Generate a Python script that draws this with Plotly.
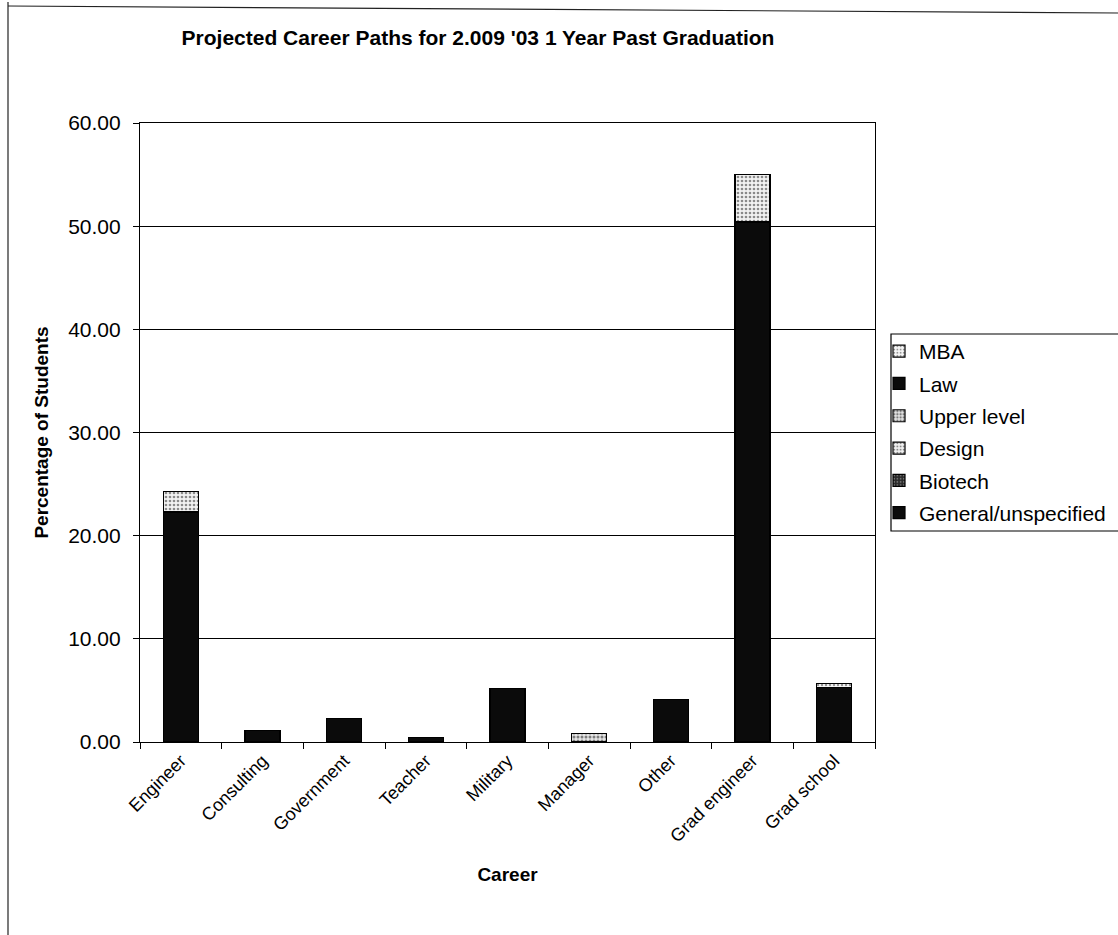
import plotly.graph_objects as go

# Career categories along the x axis
careers = ["Engineer", "Consulting", "Government", "Teacher", "Military",
           "Manager", "Other", "Grad engineer", "Grad school"]

# Percentage of students per career, split by sub-specialty (stacked bottom to top)
general_unspecified = [22.3, 1.15, 2.3, 0.4, 5.15, 0, 4.15, 50.4, 0]
biotech = [0, 0, 0, 0, 0, 0, 0, 0, 0]
design = [2.0, 0, 0, 0, 0, 0, 0, 4.6, 0]
upper_level = [0, 0, 0, 0, 0, 0.8, 0, 0, 0]
law = [0, 0, 0, 0, 0, 0, 0, 0, 5.25]
mba = [0, 0, 0, 0, 0, 0, 0, 0, 0.4]

y_ticks = [0, 10, 20, 30, 40, 50, 60]

FONT = "Liberation Sans, Arial, sans-serif"

series = [
    ("General/unspecified", general_unspecified, dict(color="#0b0b0b")),
    ("Biotech", biotech, dict(color="#2a2a2a",
                              pattern=dict(shape=".", fgcolor="#bbbbbb",
                                           bgcolor="#2a2a2a", size=4, solidity=0.25))),
    ("Design", design, dict(color="#dcdcdc",
                            pattern=dict(shape=".", fgcolor="#222222",
                                         bgcolor="#f2f2f2", size=4, solidity=0.35))),
    ("Upper level", upper_level, dict(color="#cfcfcf",
                                      pattern=dict(shape=".", fgcolor="#111111",
                                                   bgcolor="#e6e6e6", size=4, solidity=0.45))),
    ("Law", law, dict(color="#0b0b0b")),
    ("MBA", mba, dict(color="#e8e8e8",
                      pattern=dict(shape=".", fgcolor="#333333",
                                   bgcolor="#f7f7f7", size=4, solidity=0.3))),
]

fig = go.Figure()
n = len(series)
for i, (name, vals, marker) in enumerate(series):
    marker = dict(marker)
    marker["line"] = dict(color="#000000", width=1.2)
    # top-of-stack series listed first in the legend
    fig.add_trace(go.Bar(x=careers, y=vals, name=name, marker=marker,
                         legendgroup=f"g{i}", legendrank=n - i))

# Page frame lines and legend frame
shapes = [
    dict(type="line", xref="paper", yref="paper",
         x0=(8 - 140) / 735, x1=(8 - 140) / 735,
         y0=(742 - 2) / 619, y1=(742 - 935) / 619,
         line=dict(color="#222222", width=1.2)),
    dict(type="line", xref="paper", yref="paper",
         x0=(8 - 140) / 735, x1=(1118 - 140) / 735,
         y0=(742 - 6) / 619, y1=(742 - 13) / 619,
         line=dict(color="#222222", width=1.2)),
    dict(type="rect", xref="paper", yref="paper",
         x0=(891 - 140) / 735, x1=(1125 - 140) / 735,
         y0=(742 - 334) / 619, y1=(742 - 531) / 619,
         line=dict(color="#000000", width=1.2), fillcolor="rgba(0,0,0,0)"),
]

fig.update_layout(
    width=1118, height=935,
    barmode="stack", bargap=0.57,
    paper_bgcolor="white", plot_bgcolor="white",
    margin=dict(l=140, r=243, t=123, b=193, autoexpand=False),
    font=dict(family=FONT, color="#000000", size=19),
    title=dict(text="<b>Projected Career Paths for 2.009 '03 1 Year Past Graduation</b>",
               x=478 / 1118, xref="container", xanchor="center",
               y=1 - 38 / 935, yref="container", yanchor="middle",
               font=dict(family=FONT, size=21, color="#000000")),
    legend=dict(x=(879 - 140) / 735, xanchor="left", y=(742 - 331) / 619, yanchor="top",
                traceorder="grouped", tracegroupgap=2,
                font=dict(family=FONT, size=21, color="#000000"),
                bgcolor="rgba(0,0,0,0)", borderwidth=0),
    shapes=shapes,
)

fig.update_xaxes(
    tickangle=-45, tickfont=dict(family=FONT, size=18),
    showline=True, linecolor="#000000", linewidth=1.2,
    mirror=True, ticks="outside", ticklen=6, tickcolor="#000000",
    tickson="boundaries", showgrid=False,
    title=dict(text="<b>Career</b>", font=dict(family=FONT, size=19), standoff=22),
    automargin=False,
)
fig.update_yaxes(
    range=[0, 60], tickvals=y_ticks, tickformat=".2f",
    tickfont=dict(family=FONT, size=21), ticklabelstandoff=8,
    showline=True, linecolor="#000000", linewidth=1.2, mirror=True,
    ticks="outside", ticklen=6, tickcolor="#000000",
    showgrid=True, gridcolor="#000000", gridwidth=1,
    zeroline=False,
    title=dict(text="<b>Percentage of Students</b>", font=dict(family=FONT, size=19), standoff=14),
    automargin=False,
)

fig.write_html("out.html")
